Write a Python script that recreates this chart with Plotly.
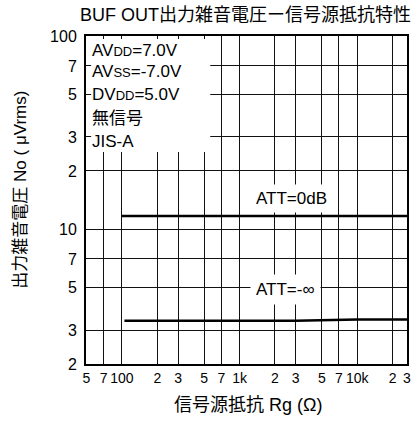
import math
import plotly.graph_objects as go

# Source resistance Rg (ohm) and output noise No (uVrms)
rg_att0 = [100, 300, 1000, 3000, 10000, 30000]
no_att0 = [11.7, 11.7, 11.7, 11.7, 11.7, 11.7]

rg_attinf = [105, 300, 1000, 3000, 10000, 30000]
no_attinf = [3.35, 3.35, 3.35, 3.35, 3.4, 3.4]

x_tickvals = [50, 70, 100, 200, 300, 500, 700, 1000, 2000, 3000, 5000, 7000, 10000, 20000]
x_ticktext = ["5", "7", "100", "2", "3", "5", "7", "1k", "2", "3", "5", "7", "10k", "2"]
y_tickvals = [2, 3, 5, 7, 10, 20, 30, 50, 70, 100]
y_ticktext = ["2", "3", "5", "7", "10", "2", "3", "5", "7", "100"]

conditions = [
    "AV<span style='font-size:13px'>DD</span>=7.0V",
    "AV<span style='font-size:13px'>SS</span>=-7.0V",
    "DV<span style='font-size:13px'>DD</span>=5.0V",
    "無信号",
    "JIS-A",
]

FONT = "Liberation Sans, Arial, Noto Sans CJK JP, sans-serif"

fig = go.Figure()
fig.add_trace(go.Scatter(x=rg_att0, y=no_att0, mode="lines",
                         line=dict(color="black", width=2.5), showlegend=False))
fig.add_trace(go.Scatter(x=rg_attinf, y=no_attinf, mode="lines",
                         line=dict(color="black", width=2.5), showlegend=False))

fig.update_xaxes(type="log", range=[math.log10(49.5), math.log10(26500)],
                 tickvals=x_tickvals, ticktext=x_ticktext,
                 showgrid=True, gridcolor="#111", gridwidth=1,
                 showline=True, linecolor="black", linewidth=2, mirror=True,
                 ticks="", tickfont=dict(size=14, color="black", family=FONT),
                 zeroline=False)
fig.update_yaxes(type="log", range=[math.log10(2), math.log10(100)],
                 tickvals=y_tickvals, ticktext=y_ticktext,
                 showgrid=True, gridcolor="#111", gridwidth=1,
                 showline=True, linecolor="black", linewidth=2, mirror=True,
                 ticks="", tickfont=dict(size=16, color="black", family=FONT),
                 ticklabelstandoff=4, zeroline=False)

# white panel behind the measurement conditions
fig.add_shape(type="rect", xref="paper", yref="paper",
              x0=0.016, x1=0.387, y0=0.646, y1=0.991,
              fillcolor="white", line=dict(width=0), layer="above")

cond_y = [0.957, 0.893, 0.823, 0.750, 0.677]
for txt, yy in zip(conditions, cond_y):
    fig.add_annotation(text=txt, xref="paper", yref="paper", x=0.012, y=yy,
                       xanchor="left", yanchor="middle", showarrow=False,
                       font=dict(size=17, color="black", family=FONT))

fig.add_annotation(text="ATT=0dB", xref="paper", yref="paper", x=0.641, y=0.506,
                   showarrow=False, bgcolor="white", borderpad=4,
                   font=dict(size=17, color="black", family=FONT))
fig.add_annotation(text="ATT=-∞", xref="paper", yref="paper", x=0.622, y=0.180,
                   showarrow=False, bgcolor="white", borderpad=5,
                   font=dict(size=17, color="black", family=FONT))

# last x tick label (30k) at the right edge of the frame
fig.add_annotation(text="3", xref="paper", yref="paper", x=1.0, y=-0.043,
                   xanchor="center", yanchor="middle", showarrow=False,
                   font=dict(size=14, color="black", family=FONT))

fig.add_annotation(text="BUF OUT出力雑音電圧ー信号源抵抗特性", xref="paper", yref="paper",
                   x=0.497, y=1.064, showarrow=False, xanchor="center", yanchor="middle",
                   font=dict(size=18, color="black", family=FONT))
fig.add_annotation(text="出力雑音電圧 No ( μVrms)", xref="paper", yref="paper",
                   x=-0.204, y=0.53, textangle=-90, showarrow=False,
                   xanchor="center", yanchor="middle",
                   font=dict(size=17, color="black", family=FONT))
fig.add_annotation(text="信号源抵抗 Rg (Ω)", xref="paper", yref="paper",
                   x=0.505, y=-0.125, showarrow=False,
                   xanchor="center", yanchor="middle",
                   font=dict(size=18, color="black", family=FONT))

fig.update_layout(width=418, height=433,
                  margin=dict(l=86, r=9, t=36, b=69),
                  paper_bgcolor="white", plot_bgcolor="white",
                  showlegend=False)

fig.write_html("out.html")
